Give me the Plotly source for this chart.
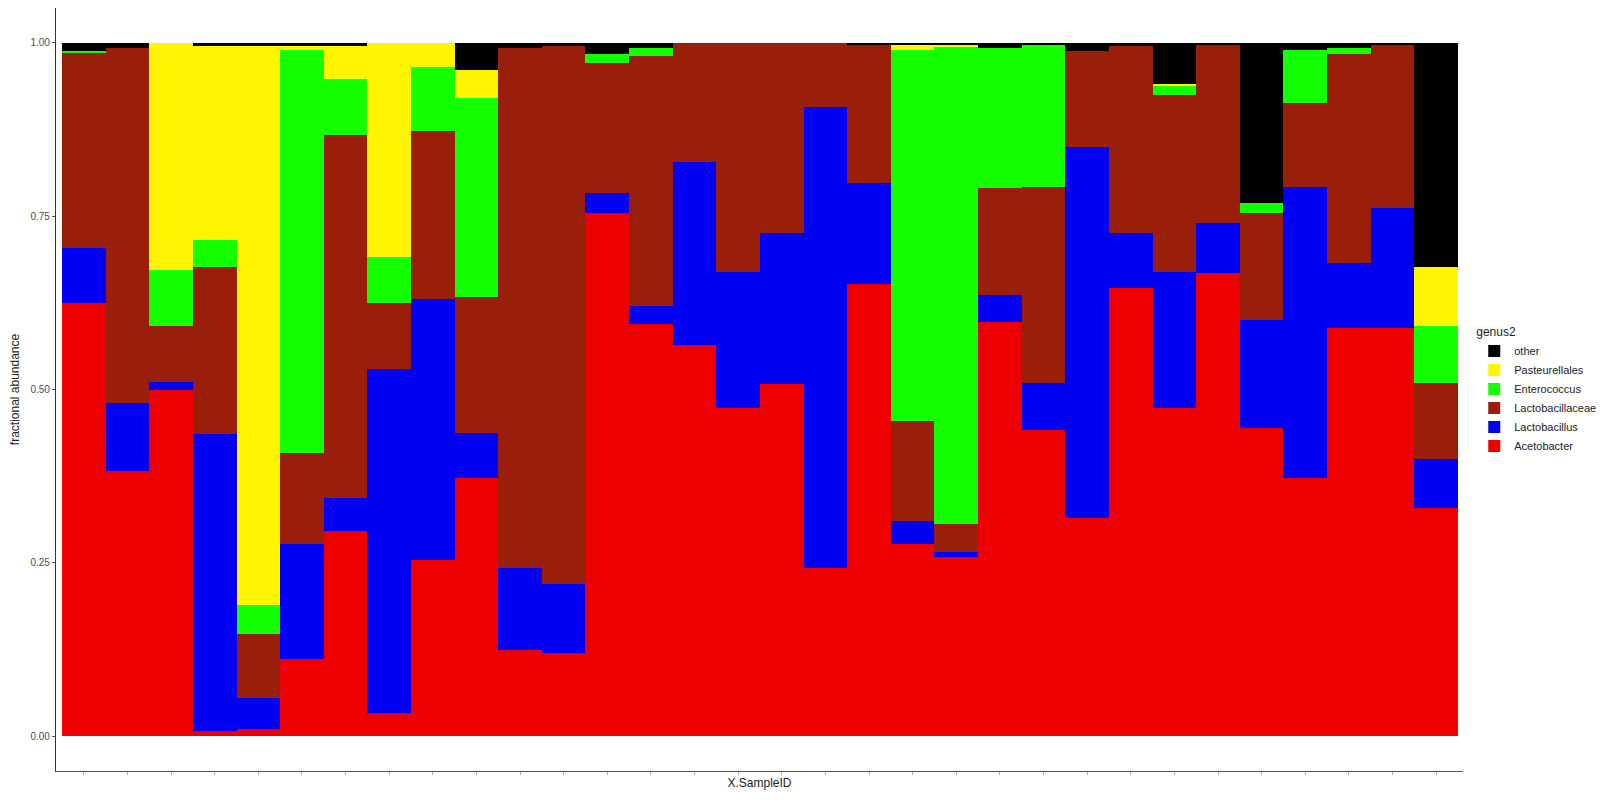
import plotly.graph_objects as go

samples = ["S01", "S02", "S03", "S04", "S05", "S06", "S07", "S08",
           "S09", "S10", "S11", "S12", "S13", "S14", "S15", "S16",
           "S17", "S18", "S19", "S20", "S21", "S22", "S23", "S24",
           "S25", "S26", "S27", "S28", "S29", "S30", "S31", "S32"]

acetobacter = [0.624, 0.383, 0.499, 0.007, 0.010, 0.111, 0.296, 0.033,
               0.254, 0.373, 0.124, 0.120, 0.754, 0.595, 0.564, 0.474,
               0.508, 0.243, 0.652, 0.277, 0.258, 0.597, 0.441, 0.315,
               0.647, 0.473, 0.668, 0.445, 0.373, 0.588, 0.588, 0.329]
lactobacillus = [0.080, 0.097, 0.012, 0.429, 0.045, 0.166, 0.048, 0.497,
                 0.376, 0.065, 0.118, 0.100, 0.029, 0.026, 0.264, 0.195,
                 0.217, 0.665, 0.146, 0.034, 0.008, 0.039, 0.068, 0.535,
                 0.078, 0.196, 0.072, 0.155, 0.419, 0.094, 0.174, 0.071]
lactobacillaceae = [0.281, 0.513, 0.081, 0.240, 0.092, 0.132, 0.523, 0.094,
                    0.243, 0.195, 0.750, 0.775, 0.188, 0.360, 0.172, 0.331,
                    0.275, 0.092, 0.200, 0.144, 0.040, 0.154, 0.283, 0.138,
                    0.270, 0.256, 0.257, 0.154, 0.121, 0.301, 0.236, 0.109]
enterococcus = [0.003, 0.000, 0.080, 0.039, 0.043, 0.581, 0.080, 0.067,
                0.092, 0.287, 0.000, 0.000, 0.012, 0.012, 0.000, 0.000,
                0.000, 0.000, 0.000, 0.535, 0.688, 0.203, 0.205, 0.000,
                0.000, 0.012, 0.000, 0.015, 0.077, 0.010, 0.000, 0.083]
pasteurellales = [0.000, 0.000, 0.328, 0.280, 0.805, 0.005, 0.048, 0.309,
                  0.035, 0.041, 0.000, 0.000, 0.000, 0.000, 0.000, 0.000,
                  0.000, 0.000, 0.000, 0.007, 0.004, 0.000, 0.000, 0.000,
                  0.000, 0.003, 0.000, 0.000, 0.000, 0.000, 0.000, 0.084]
other = [0.012, 0.007, 0.000, 0.005, 0.005, 0.005, 0.005, 0.000,
         0.000, 0.039, 0.008, 0.005, 0.017, 0.007, 0.000, 0.000,
         0.000, 0.000, 0.002, 0.003, 0.002, 0.007, 0.003, 0.012,
         0.005, 0.060, 0.003, 0.231, 0.010, 0.007, 0.002, 0.324]

series = [
    ("Acetobacter", acetobacter, "#EE0000"),
    ("Lactobacillus", lactobacillus, "#0000F5"),
    ("Lactobacillaceae", lactobacillaceae, "#9A1F0A"),
    ("Enterococcus", enterococcus, "#14FF00"),
    ("Pasteurellales", pasteurellales, "#FFF500"),
    ("other", other, "#000000"),
]

y_ticks = [0.0, 0.25, 0.5, 0.75, 1.0]
y_tick_text = ["0.00", "0.25", "0.50", "0.75", "1.00"]

fig = go.Figure()
for name, vals, col in series:
    fig.add_trace(go.Bar(
        x=samples, y=vals, name=name,
        marker=dict(color=col, line=dict(width=0)),
        width=1.0,
    ))

fig.update_layout(
    width=1600, height=800,
    barmode="stack", bargap=0,
    plot_bgcolor="white", paper_bgcolor="white",
    margin=dict(l=56, r=137, t=8, b=29, autoexpand=False),
    font=dict(family="Liberation Sans, Arial, sans-serif", size=11, color="#222222"),
    legend=dict(
        title=dict(text="genus2", font=dict(size=12, color="#222222")),
        traceorder="reversed",
        x=1.008, xanchor="left", y=0.59, yanchor="top",
        font=dict(size=11, color="#222222"),
        bgcolor="rgba(0,0,0,0)",
    ),
    xaxis=dict(
        type="category",
        range=[-0.6375, 31.615],
        automargin=False,
        showticklabels=False,
        ticks="outside", ticklen=3, tickcolor="#AAAAAA",
        showgrid=False, zeroline=False,
        showline=True, linecolor="#555555", linewidth=1.2,
        title=dict(text="X.SampleID", font=dict(size=12, color="#222222"), standoff=4),
    ),
    yaxis=dict(
        range=[-0.05, 1.05],
        automargin=False,
        tickvals=y_ticks, ticktext=y_tick_text,
        tickfont=dict(size=10, color="#4D4D4D"),
        ticks="outside", ticklen=3, tickcolor="#555555",
        showgrid=False, zeroline=False,
        showline=True, linecolor="#333333", linewidth=1.2,
        title=dict(text="fractional abundance", font=dict(size=12, color="#222222"), standoff=8),
    ),
)

fig.write_html("out.html")
